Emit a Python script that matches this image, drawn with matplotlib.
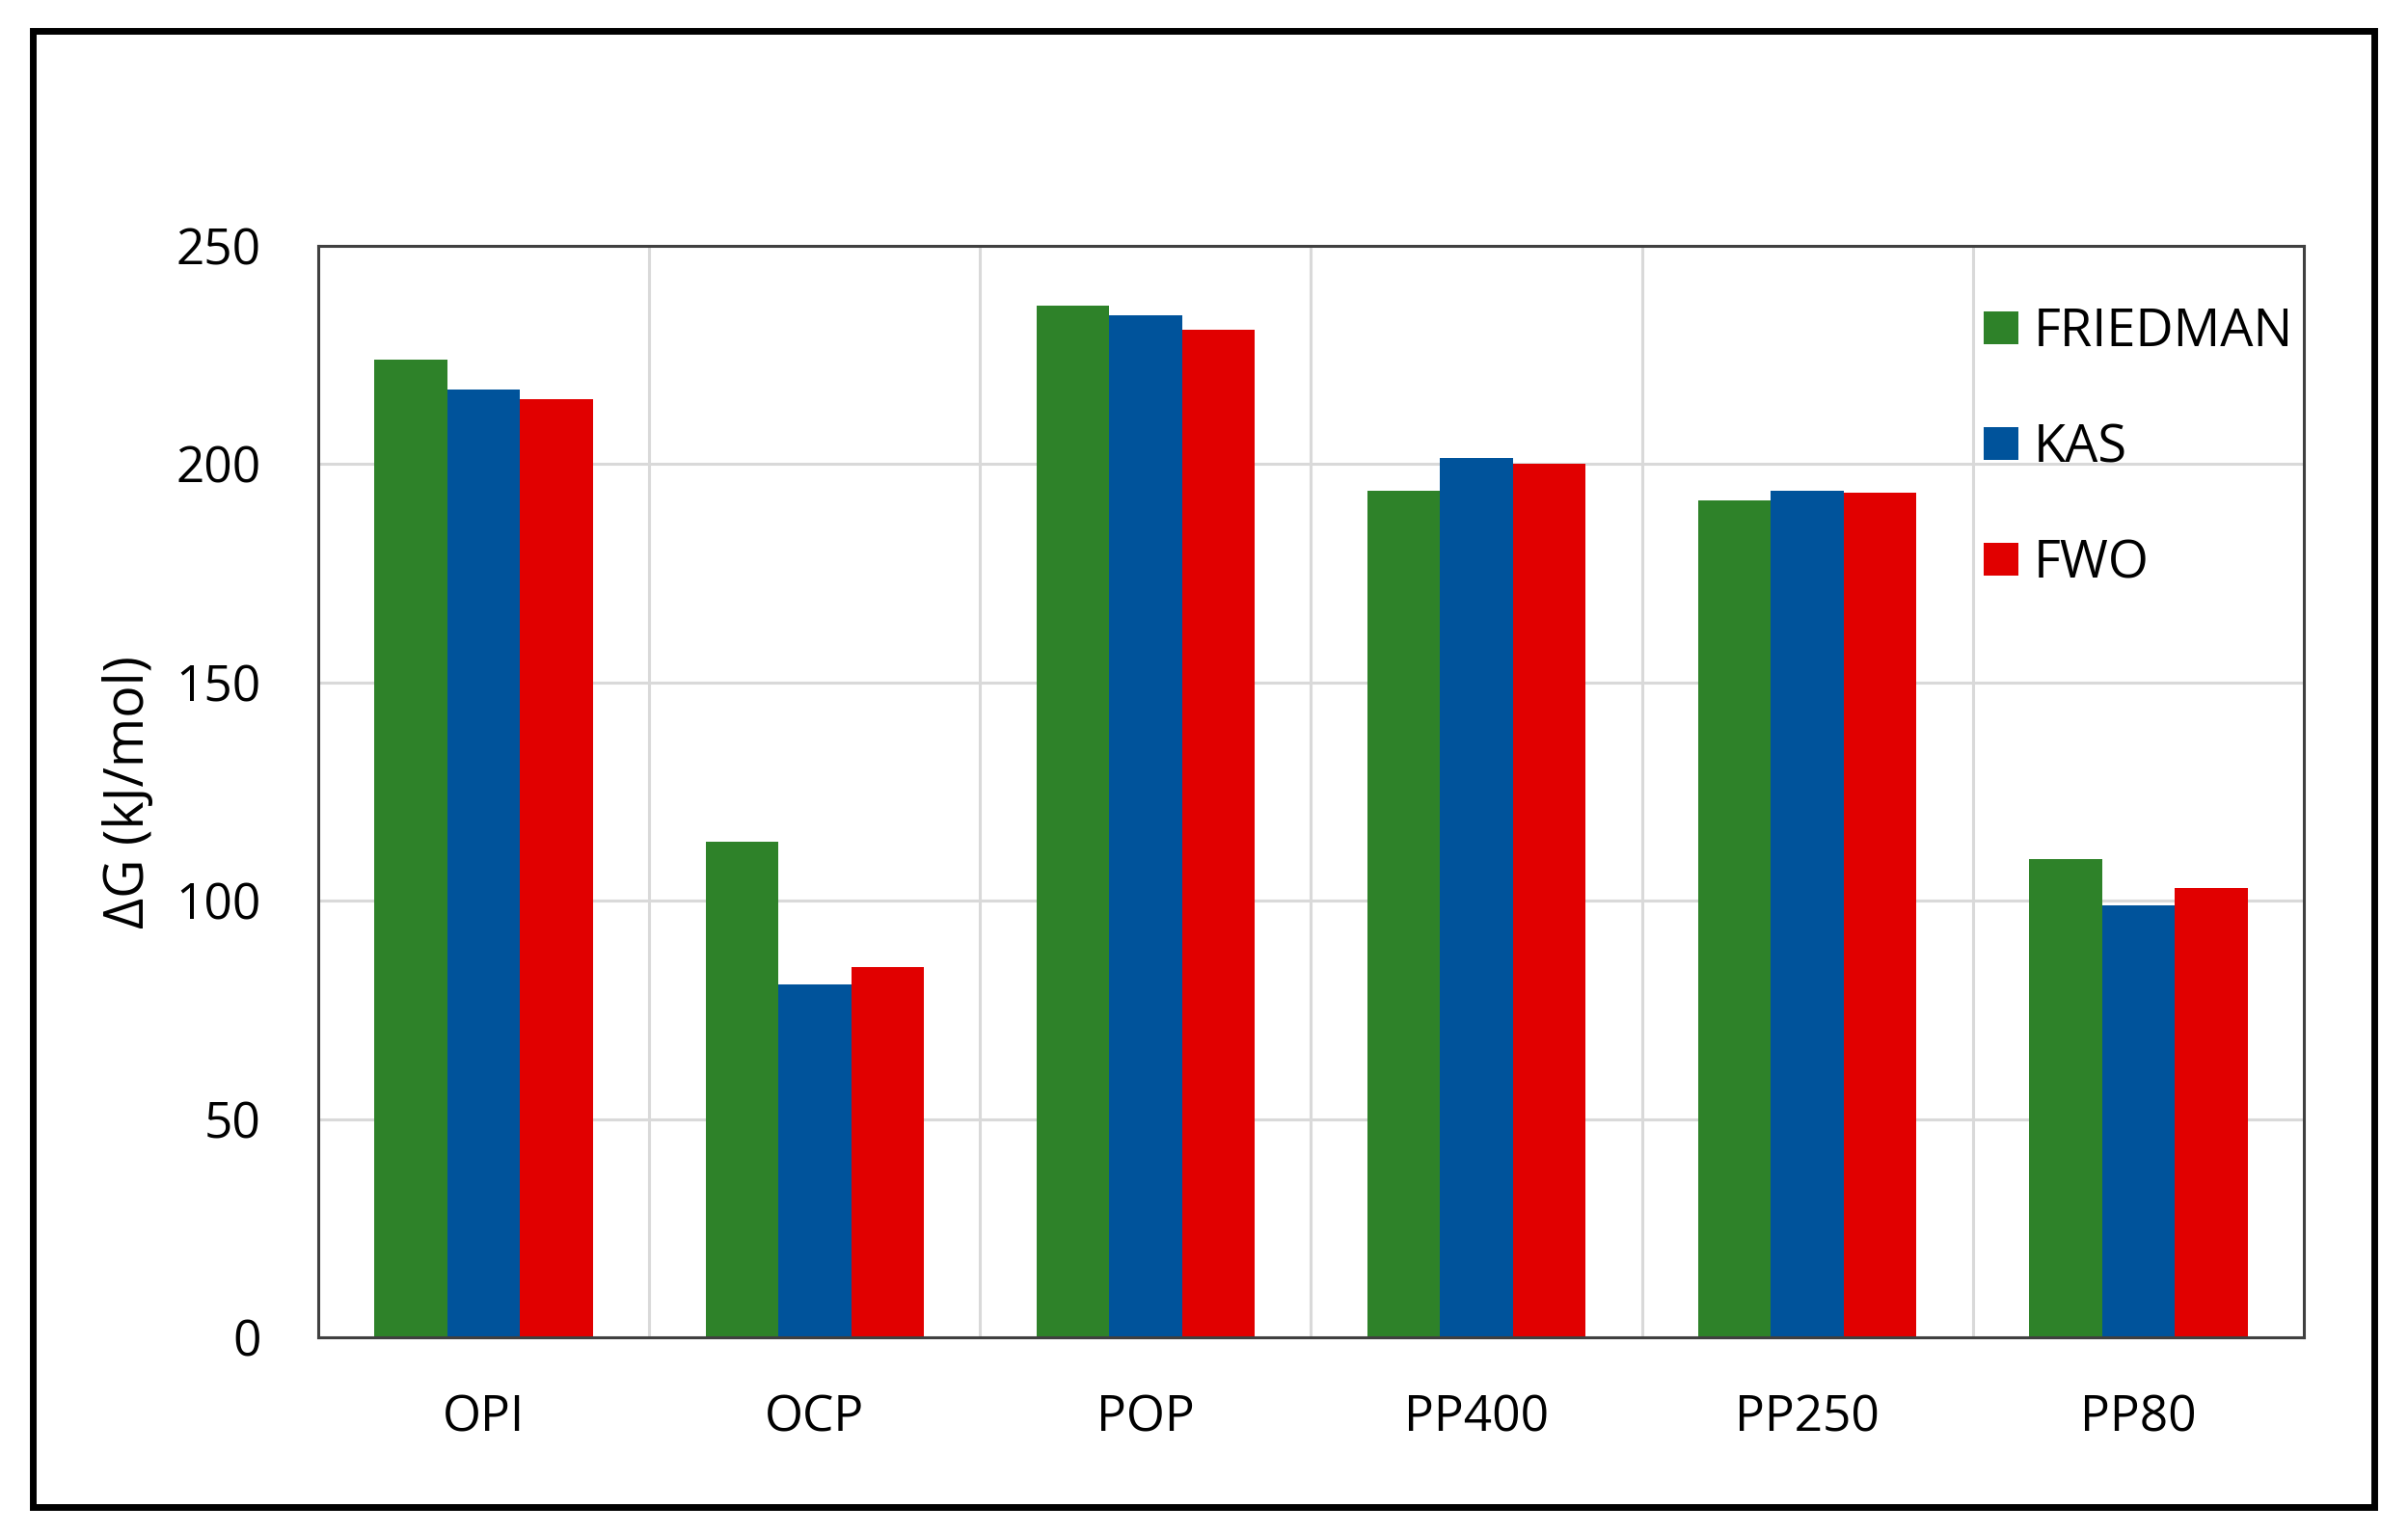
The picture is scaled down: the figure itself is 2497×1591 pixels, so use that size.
import numpy as np
import matplotlib
matplotlib.use('Agg')
from matplotlib import pyplot as plt
from matplotlib.patches import Rectangle, Patch

plt.rcParams['font.family'] = ['Open Sans', 'DejaVu Sans']

categories = ['OPI', 'OCP', 'POP', 'PP400', 'PP250', 'PP80']
series = ['FRIEDMAN', 'KAS', 'FWO']
friedman = [224.0, 113.6, 236.4, 193.9, 191.7, 109.5]
kas = [217.1, 80.8, 234.2, 201.5, 194.0, 98.9]
fwo = [214.9, 84.8, 230.8, 200.2, 193.5, 102.9]
colors = ['#2e8229', '#00539b', '#e10000']
yticks = [0, 50, 100, 150, 200, 250]

fig = plt.figure(figsize=(24.97, 15.91), dpi=100)
ax = fig.add_axes([0.1322, 0.1282, 0.8245, 0.7115])

x = np.arange(len(categories))
w = 0.22
for i, (vals, c) in enumerate(zip([friedman, kas, fwo], colors)):
    ax.bar(x + (i - 1) * w, vals, width=w, color=c, zorder=3)

ax.set_xlim(-0.5, len(categories) - 0.5)
ax.set_ylim(0, 250)
ax.set_yticks(yticks)
ax.set_xticks(x)
ax.set_xticklabels(categories)
ax.set_xticks(np.arange(0.5, len(categories) - 0.5, 1), minor=True)
ax.tick_params(axis='both', which='both', length=0, labelsize=37)
ax.tick_params(axis='y', pad=43)
ax.tick_params(axis='x', pad=42)
ax.grid(axis='y', which='major', color='#d9d9d9', linewidth=2.2, zorder=0)
ax.grid(axis='x', which='minor', color='#d9d9d9', linewidth=2.2, zorder=0)
for s in ax.spines.values():
    s.set_color('#404040')
    s.set_linewidth(2.2)
    s.set_zorder(4)

ax.set_ylabel('ΔG (kJ/mol)', fontsize=40, labelpad=14)

handles = [Patch(facecolor=c, label=l) for c, l in zip(colors, series)]
ax.legend(handles=handles, loc='upper left', bbox_to_anchor=(0.839, 0.945),
          frameon=False, fontsize=39, handlelength=0.65, handleheight=0.6,
          handletextpad=0.3, labelspacing=1.2, borderaxespad=0, borderpad=0)

fig.patches.append(Rectangle((0.0136, 0.0176), 0.9724, 0.9623, transform=fig.transFigure,
                             fill=False, edgecolor='black', linewidth=5))

fig.savefig('out.png', dpi=100, facecolor='white')
